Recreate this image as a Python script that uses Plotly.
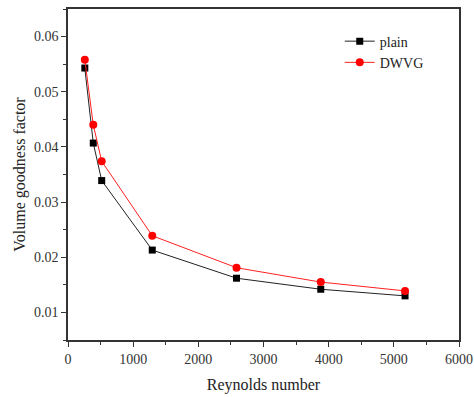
import plotly.graph_objects as go

reynolds = [258, 388, 517, 1293, 2586, 3879, 5172]
plain = [0.0543, 0.0407, 0.0339, 0.0213, 0.0162, 0.0142, 0.0130]
dwvg = [0.0558, 0.0440, 0.0374, 0.0239, 0.0181, 0.0155, 0.0139]

font = "Liberation Serif"
fig = go.Figure()
fig.add_trace(go.Scatter(x=reynolds, y=plain, name="plain", mode="lines+markers",
                         line=dict(color="#222222", width=1),
                         marker=dict(symbol="square", size=7, color="black")))
fig.add_trace(go.Scatter(x=reynolds, y=dwvg, name="DWVG", mode="lines+markers",
                         line=dict(color="#ff2020", width=1),
                         marker=dict(symbol="circle", size=8, color="#ff0000")))

axis_common = dict(showline=True, linecolor="#333333", linewidth=1.5, mirror=True,
                   ticks="outside", ticklen=5, tickwidth=1, tickcolor="#333333",
                   showgrid=False, zeroline=False, automargin=False,
                   tickfont=dict(family=font, size=14, color="#333333"))
fig.update_layout(
    width=474, height=397,
    margin=dict(l=68, r=15, t=9, b=57),
    paper_bgcolor="white", plot_bgcolor="white",
    xaxis=dict(range=[0, 6000], dtick=1000,
               minor=dict(ticks="outside", dtick=500, ticklen=3, tickcolor="#333333"),
               title=dict(text="Reynolds number", font=dict(family=font, size=16, color="#222222"), standoff=13),
               **axis_common),
    yaxis=dict(range=[0.005, 0.065], dtick=0.01, tickformat=".2f",
               minor=dict(ticks="outside", dtick=0.005, ticklen=3, tickcolor="#333333"),
               title=dict(text="Volume goodness factor", font=dict(family=font, size=16, color="#222222"), standoff=4),
               **axis_common),
    legend=dict(x=0.695, y=0.95, xanchor="left", yanchor="top", bgcolor="rgba(0,0,0,0)",
                font=dict(family=font, size=14, color="#222222"), itemwidth=30, tracegroupgap=0),
    showlegend=True,
)
fig.write_html("out.html")
